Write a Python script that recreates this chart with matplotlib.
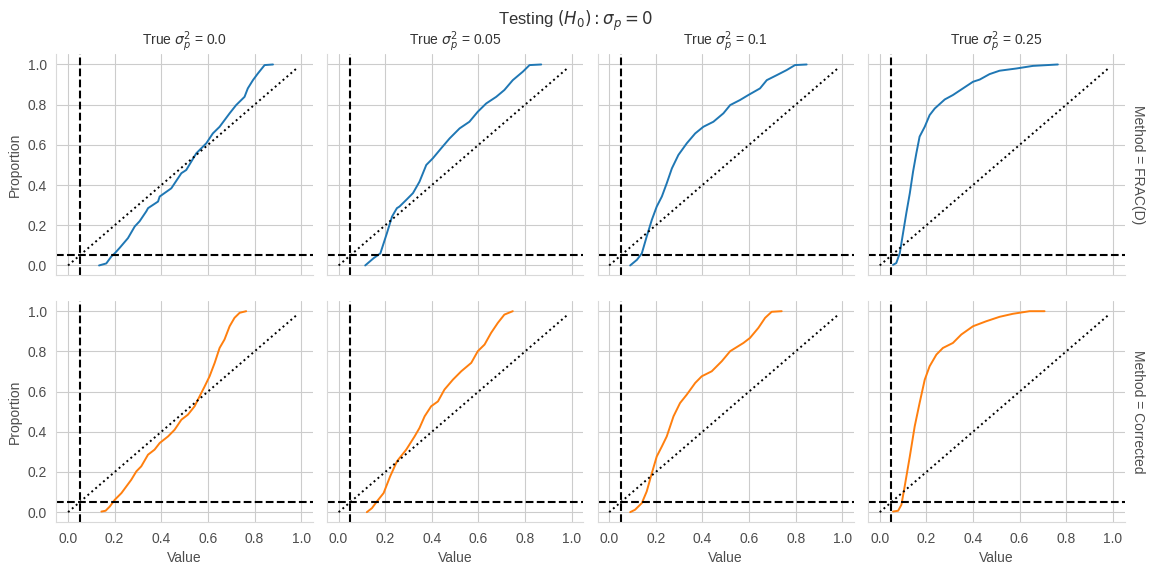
import numpy as np
import matplotlib.pyplot as plt
import seaborn as sns

###############################################################################

sigmas = ['0.0', '0.05', '0.1', '0.25']
methods = ['FRAC(D)', 'Corrected']

# quantile curves: value at each proportion
frac_x = [
    [0.133, 0.164, 0.186, 0.2, 0.221, 0.257, 0.286, 0.307, 0.336, 0.343, 0.386,
     0.393, 0.443, 0.486, 0.507, 0.55, 0.593, 0.621, 0.65, 0.693, 0.721, 0.757,
     0.771, 0.793, 0.814, 0.843, 0.879],
    [0.114, 0.15, 0.179, 0.207, 0.229, 0.25, 0.261, 0.29, 0.319, 0.347, 0.376,
     0.404, 0.44, 0.476, 0.519, 0.561, 0.597, 0.633, 0.676, 0.711, 0.747, 0.79,
     0.819, 0.869],
    [0.09, 0.119, 0.14, 0.161, 0.183, 0.204, 0.226, 0.247, 0.269, 0.297, 0.333,
     0.369, 0.404, 0.447, 0.49, 0.519, 0.561, 0.597, 0.647, 0.676, 0.719, 0.761,
     0.797, 0.847],
    [0.057, 0.071, 0.086, 0.1, 0.114, 0.129, 0.143, 0.157, 0.171, 0.193, 0.214,
     0.236, 0.279, 0.314, 0.357, 0.4, 0.429, 0.471, 0.514, 0.586, 0.657, 0.764],
]
frac_y = [
    [0.0, 0.01, 0.045, 0.06, 0.087, 0.136, 0.194, 0.22, 0.27, 0.285, 0.318,
     0.343, 0.384, 0.459, 0.475, 0.558, 0.608, 0.657, 0.69, 0.757, 0.798, 0.839,
     0.881, 0.922, 0.955, 0.997, 1.0],
    [0.0, 0.036, 0.06, 0.16, 0.243, 0.285, 0.293, 0.326, 0.36, 0.417, 0.5,
     0.533, 0.583, 0.632, 0.682, 0.715, 0.765, 0.806, 0.839, 0.873, 0.922, 0.964,
     0.997, 1.0],
    [0.0, 0.028, 0.06, 0.144, 0.227, 0.293, 0.343, 0.409, 0.483, 0.55, 0.608,
     0.657, 0.69, 0.715, 0.757, 0.798, 0.823, 0.848, 0.881, 0.922, 0.947, 0.972,
     0.997, 1.0],
    [0.003, 0.012, 0.061, 0.161, 0.26, 0.359, 0.467, 0.558, 0.641, 0.69, 0.748,
     0.781, 0.826, 0.848, 0.881, 0.914, 0.925, 0.952, 0.969, 0.98, 0.993, 1.0],
]
corr_x = [
    [0.143, 0.161, 0.179, 0.2, 0.229, 0.25, 0.271, 0.293, 0.314, 0.343, 0.371,
     0.393, 0.429, 0.457, 0.486, 0.514, 0.543, 0.564, 0.586, 0.607, 0.629, 0.65,
     0.671, 0.693, 0.714, 0.736, 0.764],
    [0.121, 0.143, 0.164, 0.193, 0.221, 0.25, 0.261, 0.29, 0.326, 0.347, 0.369,
     0.397, 0.426, 0.454, 0.49, 0.526, 0.569, 0.597, 0.626, 0.654, 0.683, 0.711,
     0.747],
    [0.09, 0.111, 0.14, 0.161, 0.183, 0.204, 0.226, 0.247, 0.276, 0.304, 0.333,
     0.369, 0.397, 0.44, 0.483, 0.519, 0.576, 0.604, 0.64, 0.669, 0.697, 0.74],
    [0.057, 0.079, 0.093, 0.107, 0.129, 0.15, 0.171, 0.193, 0.214, 0.243, 0.271,
     0.314, 0.35, 0.4, 0.457, 0.514, 0.571, 0.643, 0.707],
]
corr_y = [
    [0.003, 0.007, 0.028, 0.061, 0.095, 0.128, 0.161, 0.203, 0.228, 0.286,
     0.311, 0.344, 0.377, 0.41, 0.46, 0.485, 0.527, 0.576, 0.626, 0.676, 0.743,
     0.817, 0.859, 0.925, 0.967, 0.992, 1.0],
    [0.0, 0.02, 0.053, 0.095, 0.178, 0.252, 0.269, 0.311, 0.377, 0.419, 0.477,
     0.527, 0.551, 0.61, 0.659, 0.701, 0.743, 0.801, 0.834, 0.892, 0.942, 0.983,
     1.0],
    [0.0, 0.012, 0.045, 0.103, 0.194, 0.277, 0.327, 0.377, 0.477, 0.543, 0.585,
     0.643, 0.676, 0.701, 0.751, 0.801, 0.842, 0.867, 0.917, 0.967, 0.997, 1.0],
    [0.003, 0.007, 0.037, 0.128, 0.277, 0.427, 0.543, 0.659, 0.726, 0.784,
     0.817, 0.842, 0.884, 0.925, 0.95, 0.972, 0.987, 1.0, 1.0],
]

alpha = 0.05
diag = [0.0, 0.98]

###############################################################################

sns.set_style("whitegrid")
plt.rcParams['font.family'] = ['Liberation Sans', 'DejaVu Sans']

fig, axes = plt.subplots(2, 4, figsize=(11.51, 5.67), dpi=100,
                         sharex=True, sharey=True)
fig.subplots_adjust(left=0.049, right=0.977, top=0.904, bottom=0.079,
                    wspace=0.055, hspace=0.116)

curves = [(frac_x, frac_y, '#1f77b4'), (corr_x, corr_y, '#ff7f0e')]

for r in range(2):
    xs, ys, col = curves[r]
    for c in range(4):
        ax = axes[r, c]
        ax.plot(xs[c], ys[c], color=col, lw=1.4)
        ax.axhline(alpha, color='k', ls='--', lw=1.5)
        ax.axvline(alpha, color='k', ls='--', lw=1.5)
        ax.plot(diag, diag, color='k', ls=':', lw=1.4)
        ax.set_xlim(-0.05, 1.05)
        ax.set_ylim(-0.05, 1.05)
        ax.set_xticks([0, 0.2, 0.4, 0.6, 0.8, 1.0])
        ax.set_yticks([0, 0.2, 0.4, 0.6, 0.8, 1.0])
        ax.tick_params(labelsize=10, colors='.3')
        for s in ['top', 'right']:
            ax.spines[s].set_visible(False)
        for s in ['left', 'bottom']:
            ax.spines[s].set_color('.85')
        if r == 0:
            ax.set_title('True $\\sigma_p^2$ = ' + sigmas[c], fontsize=10,
                         color='.2')
        if r == 1:
            ax.set_xlabel('Value', fontsize=10, color='.3')
        if c == 0:
            ax.set_ylabel('Proportion', fontsize=10, color='.3')
        if c == 3:
            ax.text(1.025, 0.5, 'Method = ' + methods[r], rotation=270,
                    transform=ax.transAxes, va='center', ha='left',
                    fontsize=10, color='.3')

fig.suptitle('Testing $(H_0): \\sigma_p = 0$', fontsize=12, color='.2',
             y=0.985)

plt.savefig('out.png')
